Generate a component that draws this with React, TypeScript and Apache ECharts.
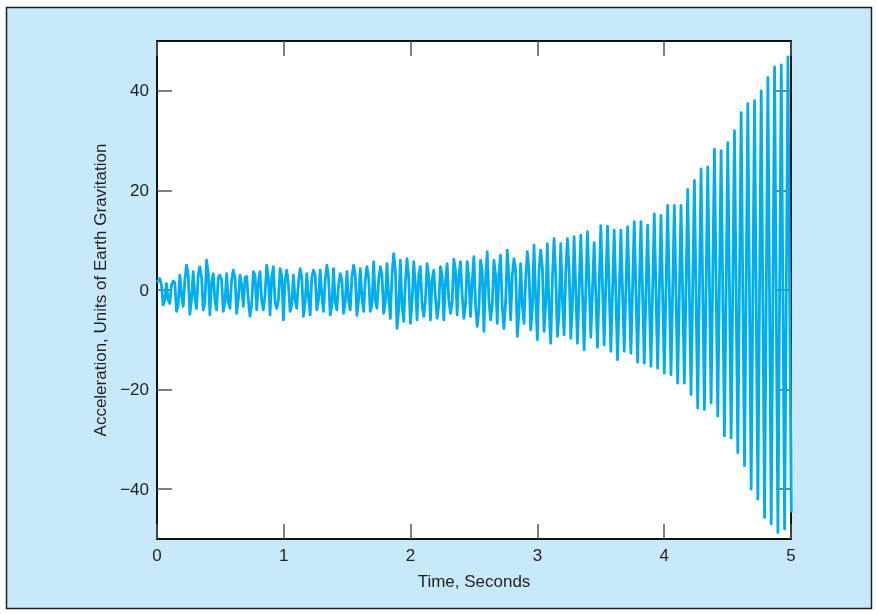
import React, { useEffect, useRef } from "react";
import * as echarts from "echarts";

// Time of first positive peak and oscillation period (seconds)
const firstPeakTime = 0.022;
const cyclePeriod = 0.0527;
const startValue = 1.5;

// Positive peak of each cycle (units of g)
const peakValues = [
  2.3, 1.3, 1.8, 3.0, 5.0, 3.7, 4.7, 6.0, 3.3, 3.0, 3.3, 4.0, 3.0, 2.7, 3.7, 3.7,
  5.0, 4.7, 4.3, 4.0, 3.0, 4.3, 3.3, 4.0, 4.0, 5.0, 4.3, 3.3, 3.7, 5.0, 4.3, 4.7,
  5.7, 4.7, 5.3, 7.3, 6.0, 6.3, 5.7, 4.7, 5.3, 4.0, 4.7, 5.3, 6.2, 5.7, 5.7,
  6.7, 6.0, 7.7, 6.0, 7.0, 8.0, 6.3, 5.3, 7.7, 9.0, 8.0, 9.3, 10.3, 9.3, 10.3, 10.7,
  11.0, 11.7, 9.5, 12.9, 12.8, 12.0, 12.0, 12.7, 13.7, 13.7, 13.0, 15.3, 15.0, 17.0, 17.0, 17.0,
  20.2, 22.0, 24.3, 24.7, 28.3, 28.0, 29.6, 32.0, 35.6, 37.4, 38.0, 40.0, 42.7, 44.8, 45.2, 46.8,
];

// Negative trough of each cycle (units of g)
const troughValues = [
  -3.0, -2.7, -4.3, -3.3, -4.9, -3.7, -4.0, -5.0, -4.0, -4.3, -3.7, -4.7, -3.3, -5.3, -4.0, -4.0,
  -5.0, -3.7, -6.0, -4.3, -3.7, -5.3, -5.0, -4.0, -4.3, -5.0, -4.0, -4.7, -4.0, -5.1, -4.3,
  -4.3, -3.7, -4.7, -5.7, -7.7, -6.3, -6.7, -6.0, -5.3, -6.0, -5.7, -6.0, -4.7, -5.0, -5.7, -5.3,
  -7.3, -8.3, -6.0, -6.7, -7.7, -6.0, -9.3, -6.7, -8.0, -10.0, -8.3, -10.7, -9.3, -9.0, -9.7, -10.7,
  -12.0, -9.5, -11.5,
  -11.0, -12.3, -14.0, -12.3, -12.7, -14.5, -14.7, -15.3, -15.7, -16.7, -17.0, -18.7, -18.7, -21.0,
  -23.7, -24.0, -22.7, -25.3, -29.3, -29.7, -32.7, -35.3, -40.0, -42.0, -45.7, -47.0, -48.7, -48.0, -44.7,
];

// Small intermediate wiggles on the way down (peak -> trough), early noisy part only
const fallWiggles = [
  1.0, -2.0, 1.5, -1.0, 3.0, -1.5, 2.5, 3.5, -2.0, 2.0, -2.5, 2.5, 1.0, -2.0, 3.0, -2.0,
  2.5, -2.5, 3.0, 1.0, -2.0, 2.5, -1.5, 3.0, -1.0, 2.5, -2.5, 2.0, -2.0, 3.0, -1.5, 2.5,
  -2.0, 3.0, -1.5, 4.0, -3.0, 2.5, 1.0, -3.0, 2.5, -1.5, 3.0, -2.0, 4.0, -1.0, 2.5,
  -3.0, 4.0, -2.0, 3.0, -3.5, 2.5, 4.0, -3.0, 4.0, -1.5, 4.5, -3.5, 3.0, -2.0, 4.5,
];

// Small intermediate wiggles on the way up (trough -> next peak), early noisy part only
const riseWiggles = [
  -2.0, 1.0, -3.0, 2.0, -2.0, 3.0, -2.5, 1.5, 2.5, -2.5, 2.0, -2.0, 2.5, -3.0, 1.5, -1.0,
  2.5, -2.0, 2.0, -3.0, 1.5, -2.5, 2.5, -2.0, 2.0, -3.0, 1.0, -2.5, 2.5, -2.0, 2.0, -3.0,
  2.0, -2.5, 3.0, -4.0, 1.5, -2.5, 3.0, -2.0, 2.0, -3.0, 1.5, -2.5, 3.0, -3.0, 1.5,
  -4.0, 2.0, -3.0, 3.5, -2.5, 3.0, -4.5, 2.0, -4.0, 4.0, -3.0, 2.0, -4.5, 3.5, -3.0,
];

const xTicks = [0, 1, 2, 3, 4, 5];
const yTicks = [-40, -20, 0, 20, 40];

const xTitle = "Time, Seconds";
const yTitle = "Acceleration, Units of Earth Gravitation";

function buildSeries(): [number, number][] {
  const pts: [number, number][] = [[0, startValue]];
  const q = cyclePeriod / 4;
  for (let k = 0; k < peakValues.length; k++) {
    const tp = firstPeakTime + k * cyclePeriod;
    pts.push([tp, peakValues[k]]);
    if (k < fallWiggles.length) pts.push([tp + q, fallWiggles[k]]);
    if (k < troughValues.length) pts.push([tp + 2 * q, troughValues[k]]);
    if (k < riseWiggles.length) pts.push([tp + 3 * q, riseWiggles[k]]);
  }
  return pts;
}

const fmt = (v: number) => String(v).replace("-", "\u2212");

export default function App() {
  const ref = useRef<HTMLDivElement>(null);
  useEffect(() => {
    if (!ref.current) return;
    const chart = echarts.init(ref.current, undefined, { renderer: "svg" });
    const font = "'Liberation Sans', Arial, Helvetica, sans-serif";
    const labelStyle = { color: "#231f20", fontSize: 17, fontFamily: font };
    const tickStyle = { color: "#555", width: 1.5 };
    const hiddenLine = { show: false, onZero: false };
    chart.setOption({
      animation: false,
      backgroundColor: "transparent",
      graphic: [
        {
          type: "rect",
          shape: { x: 6.5, y: 7.5, width: 865, height: 601 },
          style: { fill: "#c8e9f9", stroke: "#231f20", lineWidth: 1.5 },
          z: -10,
          silent: true,
        },
      ],
      grid: {
        left: 157,
        top: 41,
        right: 86,
        bottom: 75,
        show: true,
        backgroundColor: "#ffffff",
        borderColor: "#111",
        borderWidth: 2,
      },
      xAxis: [
        {
          type: "value",
          min: 0,
          max: 5,
          interval: 1,
          position: "bottom",
          axisLine: hiddenLine,
          splitLine: { show: false },
          axisTick: { show: true, inside: true, length: 15, lineStyle: tickStyle },
          axisLabel: { ...labelStyle, margin: 8, formatter: (v: number) => fmt(v) },
          name: xTitle,
          nameLocation: "middle",
          nameGap: 34,
          nameTextStyle: labelStyle,
        },
        {
          type: "value",
          min: 0,
          max: 5,
          interval: 1,
          position: "top",
          axisLine: hiddenLine,
          splitLine: { show: false },
          axisTick: { show: true, inside: true, length: 15, lineStyle: tickStyle },
          axisLabel: { show: false },
        },
      ],
      yAxis: [
        {
          type: "value",
          min: -50,
          max: 50,
          position: "left",
          axisLine: hiddenLine,
          splitLine: { show: false },
          axisTick: { show: true, inside: true, length: 15, lineStyle: tickStyle, customValues: yTicks },
          axisLabel: { ...labelStyle, margin: 8, customValues: yTicks, formatter: (v: number) => fmt(v) },
          name: yTitle,
          nameLocation: "middle",
          nameGap: 44,
          nameRotate: 90,
          nameTextStyle: labelStyle,
        },
        {
          type: "value",
          min: -50,
          max: 50,
          position: "right",
          axisLine: hiddenLine,
          splitLine: { show: false },
          axisTick: { show: true, inside: true, length: 15, lineStyle: tickStyle, customValues: yTicks },
          axisLabel: { show: false },
        },
      ],
      series: [
        {
          type: "line",
          data: buildSeries(),
          xAxisIndex: 0,
          yAxisIndex: 0,
          showSymbol: false,
          symbol: "none",
          clip: true,
          lineStyle: { color: "#00aeef", width: 2.8, join: "round" },
          z: 3,
        },
      ],
    });
    return () => chart.dispose();
  }, []);
  return (
    <div
      ref={ref}
      style={{ position: "fixed", left: 0, top: 0, width: 877, height: 614 }}
    />
  );
}
